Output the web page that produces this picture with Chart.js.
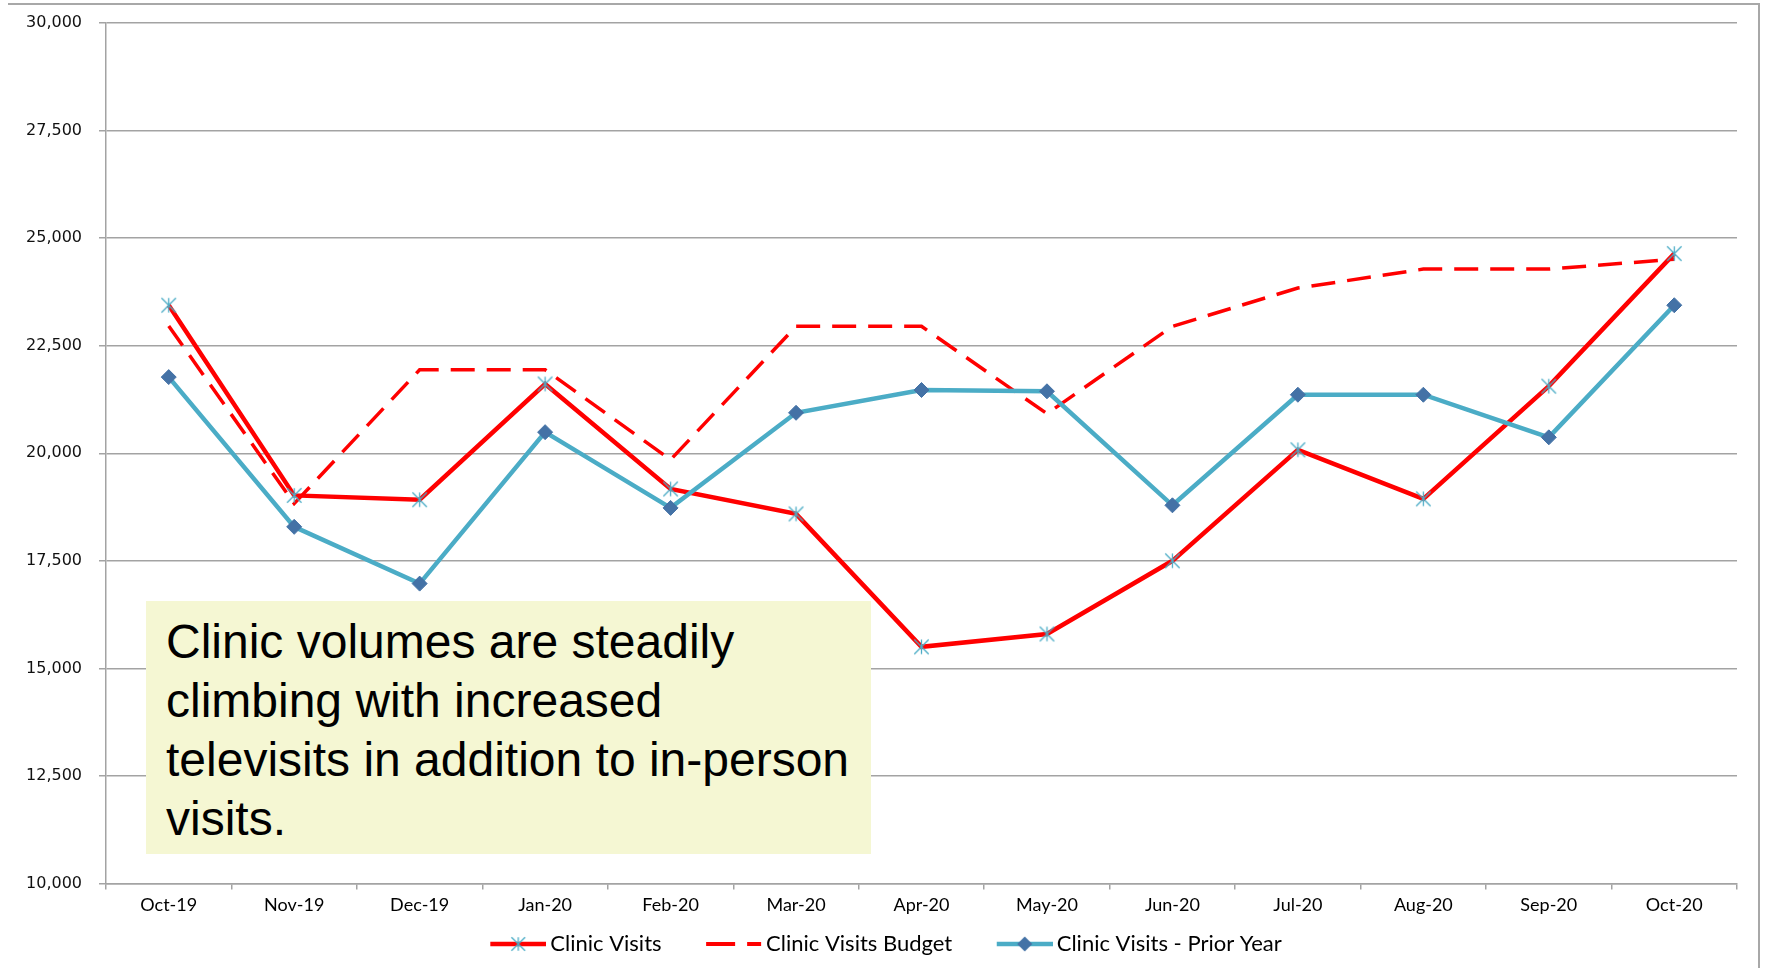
<!DOCTYPE html>
<html>
<head>
<meta charset="utf-8">
<script src="https://cdn.jsdelivr.net/npm/chart.js@4"></script>
<style>
  html, body { margin: 0; padding: 0; background: #ffffff; }
  #wrap { position: relative; width: 1766px; height: 968px; overflow: hidden; }
  #chart { position: absolute; left: 0; top: 0; }
  #note {
    position: absolute; left: 146px; top: 601px; width: 725px; height: 253px;
    box-sizing: border-box; background: #f5f7d3;
    padding: 11px 0 0 20px;
    font-family: "Liberation Sans", Arial, sans-serif; font-size: 48px; line-height: 59px; color: #000;
  }
</style>
</head>
<body>
<div id="wrap">
  <canvas id="chart" width="1766" height="968"></canvas>
  <div id="note">Clinic volumes are steadily<br>climbing with increased<br>televisits in addition to in-person<br>visits.</div>
</div>
<script>
// Monthly clinic visit volumes
const months = ['Oct-19', 'Nov-19', 'Dec-19', 'Jan-20', 'Feb-20', 'Mar-20', 'Apr-20',
                'May-20', 'Jun-20', 'Jul-20', 'Aug-20', 'Sep-20', 'Oct-20'];
const clinicVisits    = [23440, 19020, 18920, 21610, 19170, 18590, 15500, 15800, 17500, 20080, 18940, 21560, 24640];
const clinicBudget    = [22960, 18830, 21940, 21940, 19850, 22950, 22950, 20920, 22950, 23840, 24280, 24280, 24510];
const clinicPriorYear = [21770, 18290, 16970, 20490, 18730, 20940, 21470, 21440, 18790, 21360, 21360, 20370, 23440];
const yTickValues = [10000, 12500, 15000, 17500, 20000, 22500, 25000, 27500, 30000];
const seriesNames = ['Clinic Visits', 'Clinic Visits Budget', 'Clinic Visits - Prior Year'];

const RED = '#ff0000';
const CYAN = '#4bacc6';
const DIAMOND = '#4472a6';
const GRID = '#a3a3a3';

// Asterisk marker: vertical bar plus an X
function drawStar(g, cx, cy, r) {
  g.save();
  g.strokeStyle = CYAN;
  g.lineWidth = 1.3;
  g.beginPath();
  g.moveTo(cx, cy - r); g.lineTo(cx, cy + r);
  g.moveTo(cx - r, cy - r); g.lineTo(cx + r, cy + r);
  g.moveTo(cx + r, cy - r); g.lineTo(cx - r, cy + r);
  g.stroke();
  g.restore();
}
function starMarker() {
  const c = document.createElement('canvas');
  c.width = 19; c.height = 19;
  drawStar(c.getContext('2d'), 9.5, 9.5, 7.2);
  return c;
}
const starImg = starMarker();

// Legend swatches: a 56px line sample with the series marker, right-aligned
// inside a wider transparent canvas so the items get their spacing.
const SW_W = 92, SW_H = 18, SW_LINE = 56;
function swatch(kind) {
  const c = document.createElement('canvas');
  c.width = SW_W; c.height = SW_H;
  const g = c.getContext('2d');
  const cy = SW_H / 2;
  const x0 = SW_W - SW_LINE;
  const mid = x0 + SW_LINE / 2;
  if (kind === 0) {
    g.strokeStyle = RED; g.lineWidth = 4.5;
    g.beginPath(); g.moveTo(x0, cy); g.lineTo(SW_W, cy); g.stroke();
    drawStar(g, mid, cy, 6.8);
  } else if (kind === 1) {
    g.strokeStyle = RED; g.lineWidth = 4;
    g.beginPath(); g.moveTo(x0, cy); g.lineTo(x0 + 29, cy); g.moveTo(x0 + 41, cy); g.lineTo(x0 + 55, cy); g.stroke();
  } else {
    g.strokeStyle = CYAN; g.lineWidth = 4.5;
    g.beginPath(); g.moveTo(x0, cy); g.lineTo(SW_W, cy); g.stroke();
    g.fillStyle = DIAMOND;
    g.beginPath(); g.moveTo(mid, cy - 7.5); g.lineTo(mid + 7.5, cy); g.lineTo(mid, cy + 7.5); g.lineTo(mid - 7.5, cy); g.closePath(); g.fill();
  }
  return c;
}
const swatches = [swatch(0), swatch(1), swatch(2)];

// Thin frame along the top and right edges
const framePlugin = {
  id: 'frame',
  afterDraw(chart) {
    const g = chart.ctx;
    g.save();
    g.strokeStyle = '#a8a8a8';
    g.lineWidth = 2;
    g.beginPath();
    g.moveTo(8, 4); g.lineTo(1759, 4); g.lineTo(1759, 968);
    g.stroke();
    g.restore();
  }
};

new Chart(document.getElementById('chart'), {
  type: 'line',
  data: {
    labels: months,
    datasets: [
      {
        label: seriesNames[0], data: clinicVisits,
        borderColor: RED, borderWidth: 4.5, tension: 0,
        pointStyle: starImg, pointRadius: 8, order: 1
      },
      {
        label: seriesNames[1], data: clinicBudget,
        borderColor: RED, borderWidth: 3.5, borderDash: [24, 12], tension: 0,
        pointRadius: 0, order: 2
      },
      {
        label: seriesNames[2], data: clinicPriorYear,
        borderColor: CYAN, borderWidth: 4.5, tension: 0,
        pointStyle: 'rectRot', pointRadius: 7.5,
        pointBackgroundColor: DIAMOND, pointBorderColor: DIAMOND, pointBorderWidth: 1, order: 0
      }
    ]
  },
  options: {
    responsive: false,
    animation: false,
    events: [],
    layout: { padding: { left: 6, right: 29, top: 23, bottom: 3 } },
    scales: {
      x: {
        type: 'category',
        offset: true,
        afterFit(scale) { scale.height = 34; },
        grid: { offset: true, drawOnChartArea: false, drawTicks: true, tickLength: 6, color: GRID, lineWidth: 1.5 },
        border: { display: true, color: GRID, width: 1.5 },
        ticks: { color: '#000', padding: 5, font: { family: 'Lato', size: 18 }, maxRotation: 0, autoSkip: false }
      },
      y: {
        min: 10000, max: 30000,
        afterFit(scale) {
          scale.width = 100;
          scale.paddingTop = 0;
          scale.paddingBottom = 0;
        },
        afterBuildTicks(scale) { scale.ticks = yTickValues.map(v => ({ value: v })); },
        grid: { color: GRID, lineWidth: 1.5, drawTicks: true, tickLength: 7 },
        border: { display: true, color: GRID, width: 1.5 },
        ticks: {
          color: '#111', padding: 17,
          font: { family: 'DejaVu Sans', size: 16 },
          callback: v => Number(v).toLocaleString('en-US')
        }
      }
    },
    plugins: {
      tooltip: { enabled: false },
      legend: {
        position: 'bottom',
        labels: {
          usePointStyle: true,
          pointStyleWidth: 78,
          padding: 15.5,
          color: '#000',
          font: { family: 'Lato', size: 22 },
          generateLabels: () => seriesNames.map((t, i) => ({
            text: t, pointStyle: swatches[i], datasetIndex: i, hidden: false,
            fontColor: '#000', lineWidth: 0
          }))
        }
      }
    }
  },
  plugins: [framePlugin]
});
</script>
</body>
</html>
